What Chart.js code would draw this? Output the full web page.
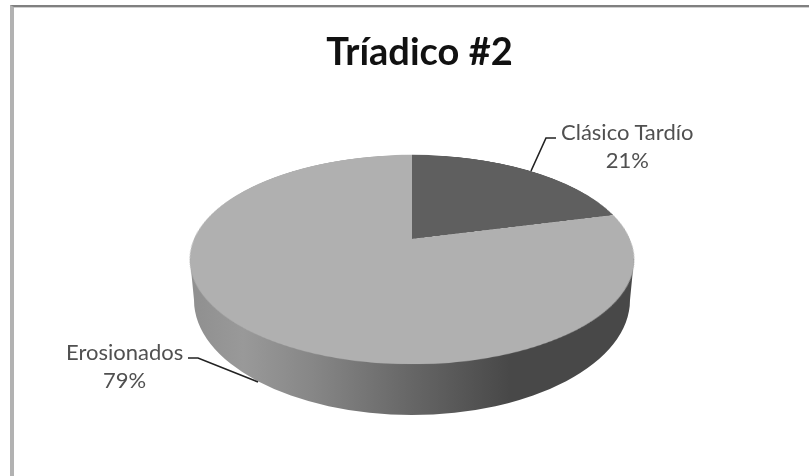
<!DOCTYPE html>
<html lang="es">
<head>
<meta charset="UTF-8" />
<title>Tríadico #2</title>
<script src="https://cdn.jsdelivr.net/npm/chart.js"></script>
<style>
  html, body { margin: 0; background: #fff; }
  #page { position: relative; width: 809px; height: 476px; overflow: hidden; font-family: Lato, sans-serif; filter: blur(0.4px); }
  #frame { position: absolute; left: 10px; top: 5px; width: 900px; height: 600px; border-top: 2px solid #808080; border-left: 4px solid #b2b2b2; box-shadow: inset 0 1px 0 #d0d0d0; }
  #wall, #leaders { position: absolute; left: 0; top: 0; }
  #title { position: absolute; left: 0; top: 27px; width: 839px; text-align: center; font-size: 38px; font-weight: 700; color: #111; }
  .lbl { position: absolute; text-align: center; font-size: 22px; line-height: 28px; color: #505050; white-space: nowrap; }
  /* the flat pie is tilted back so the far half looks shorter than the near half */
  #pieBox { position: absolute; left: 194px; top: 21px; width: 436px; height: 436px;
            transform: perspective(985px) rotateX(62.5deg); transform-origin: 50% 50%; }
</style>
</head>
<body>
<div id="page">
  <div id="frame"></div>
  <svg id="wall" width="809" height="476">
    <defs>
      <linearGradient id="side" gradientUnits="userSpaceOnUse" x1="190" y1="0" x2="634" y2="0">
        <stop offset="0" stop-color="#8f8f8f"/>
        <stop offset="0.12" stop-color="#999999"/>
        <stop offset="0.28" stop-color="#868686"/>
        <stop offset="0.5" stop-color="#666666"/>
        <stop offset="0.72" stop-color="#484848"/>
        <stop offset="1" stop-color="#484848"/>
      </linearGradient>
    </defs>
    <path d="M190,259 L194,300 A218,115 0 0 0 630,300 L634,259 Z" fill="url(#side)"/>
  </svg>
  <div id="pieBox"><canvas id="pieChart" width="436" height="436"></canvas></div>
  <svg id="leaders" width="809" height="476" fill="none" stroke="#222" stroke-width="1.6">
    <path d="M531,171 L546,138 L556,138"/>
    <path d="M188,358 L198,358 L258,382"/>
  </svg>
  <div id="title"></div>
  <div class="lbl" id="lbl0" style="left:561px;top:118px"></div>
  <div class="lbl" id="lbl1" style="left:66px;top:338px"></div>
</div>
<script>
  const categories = ["Clásico Tardío", "Erosionados"];
  const shares = [21, 79];
  const sliceColors = ["#5f5f5f", "#b0b0b0"];
  const chartTitle = "Tríadico #2";

  document.getElementById("title").textContent = chartTitle;
  categories.forEach((name, i) => {
    document.getElementById("lbl" + i).innerHTML = name + "<br>" + shares[i] + "%";
  });

  new Chart(document.getElementById("pieChart"), {
    type: "pie",
    data: {
      labels: categories,
      datasets: [{
        data: shares,
        backgroundColor: sliceColors,
        borderWidth: 0
      }]
    },
    options: {
      responsive: false,
      animation: false,
      plugins: {
        legend: { display: false },
        title: { display: false },
        tooltip: { enabled: false }
      }
    }
  });
</script>
</body>
</html>
